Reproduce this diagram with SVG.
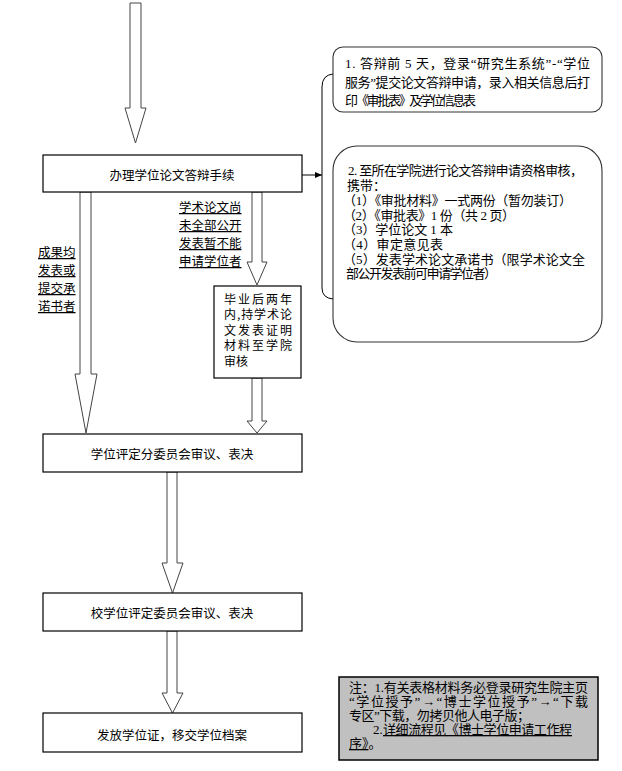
<svg xmlns="http://www.w3.org/2000/svg" width="622" height="771" viewBox="0 0 622 771">
<style>
.box{fill:#fff;stroke:#000;stroke-width:1.2}
.rbox{fill:#fff;stroke:#333;stroke-width:1.1}
.note{fill:#c0c0c0;stroke:#000;stroke-width:1.5}
.harrow{fill:#fff;stroke:#444;stroke-width:1}
.line{fill:none;stroke:#000;stroke-width:1}
.t{font-family:"Noto Sans CJK SC","Liberation Sans",sans-serif;font-size:12.5px;fill:#000}
.tc{text-anchor:middle}
.bt{font-family:"Noto Sans CJK SC","Liberation Sans",sans-serif;font-size:12px;fill:#000}
.rt{font-family:"Liberation Serif","Noto Sans CJK SC",serif;font-size:13px;fill:#000}
.nt{font-family:"Liberation Serif","Noto Sans CJK SC",serif;font-size:13px;fill:#000}
.u{text-decoration:underline}
</style>
<defs>
<marker id="ah" markerWidth="8" markerHeight="8" refX="7" refY="4" orient="auto" markerUnits="userSpaceOnUse">
<path d="M0,1 L7,4 L0,7 Z" fill="#000"/>
</marker>
</defs>
<rect width="622" height="771" fill="#fff"/>
<g id="connectors">
<polygon class="harrow" points="130,3 141,3 141,108 146,108 135.5,143 125,108 130,108"/>
<polygon class="harrow" points="80,192 91,192 91,374 97,374 86,433 75,374 80,374"/>
<polygon class="harrow" points="252,192 262,192 262,262 267,262 257,285 247,262 252,262"/>
<polygon class="harrow" points="252,378 262,378 262,421 267,421 257,433 247,421 252,421"/>
<polygon class="harrow" points="167,472 177,472 177,563 183,563 172.5,593 162,563 167,563"/>
<polygon class="harrow" points="167,631 177,631 177,693 183,693 172.5,713 162,693 167,693"/>
<line class="line" x1="302" y1="175" x2="322" y2="175" marker-end="url(#ah)"/>
<path class="line" d="M333,74 Q322,75 322,87 L322,288 Q322,298 333,299"/>
</g>
<g id="label-left">
<text class="t u" x="38" y="257">成果均</text>
<text class="t u" x="38" y="275">发表或</text>
<text class="t u" x="38" y="293">提交承</text>
<text class="t u" x="38" y="311">诺书者</text>
</g>
<g id="label-right">
<text class="t u" x="179" y="212">学术论文尚</text>
<text class="t u" x="179" y="230">未全部公开</text>
<text class="t u" x="179" y="248">发表暂不能</text>
<text class="t u" x="179" y="266">申请学位者</text>
</g>
<g id="node-apply">
<rect class="box" x="43" y="155" width="259" height="37"/>
<text class="t tc" x="172" y="179.5">办理学位论文答辩手续</text>
</g>
<g id="node-step1">
<rect class="rbox" x="333" y="47" width="269" height="65" rx="10"/>
<text class="rt" x="345" y="68" textLength="245" lengthAdjust="spacing">1. 答辩前 5 天，登录“研究生系统”-“学位</text>
<text class="rt" x="345" y="87" textLength="245" lengthAdjust="spacing">服务”提交论文答辩申请，录入相关信息后打</text>
<text class="rt" x="345" y="105" textLength="131" lengthAdjust="spacing">印《审批表》及学位信息表</text>
</g>
<g id="node-step2">
<rect class="rbox" x="333" y="146" width="269" height="196" rx="24"/>
<text class="rt" x="348" y="175" textLength="235" lengthAdjust="spacing">2. 至所在学院进行论文答辩申请资格审核，</text>
<text class="rt" x="347" y="190">携带：</text>
<text class="rt" x="343" y="205" textLength="229" lengthAdjust="spacing">（1）《审批材料》一式两份（暂勿装订）</text>
<text class="rt" x="343" y="219.5" textLength="172" lengthAdjust="spacing">（2）《审批表》1 份（共 2 页）</text>
<text class="rt" x="343" y="234" textLength="110" lengthAdjust="spacing">（3）学位论文 1 本</text>
<text class="rt" x="343" y="249" textLength="100" lengthAdjust="spacing">（4）审定意见表</text>
<text class="rt" x="343" y="264" textLength="242" lengthAdjust="spacing">（5）发表学术论文承诺书（限学术论文全</text>
<text class="rt" x="346" y="278" textLength="151" lengthAdjust="spacing">部公开发表前可申请学位者）</text>
</g>
<g id="node-later">
<rect class="box" x="214" y="286" width="87" height="92"/>
<text class="bt" x="224" y="303.5" textLength="68" lengthAdjust="spacing">毕业后两年</text>
<text class="bt" x="224" y="319" textLength="68" lengthAdjust="spacing">内,持学术论</text>
<text class="bt" x="224" y="334.5" textLength="68" lengthAdjust="spacing">文发表证明</text>
<text class="bt" x="224" y="350" textLength="68" lengthAdjust="spacing">材料至学院</text>
<text class="bt" x="224" y="365.5" textLength="24" lengthAdjust="spacing">审核</text>
</g>
<g id="node-subcommittee">
<rect class="box" x="43" y="434" width="259" height="38"/>
<text class="t tc" x="172" y="458.5">学位评定分委员会审议、表决</text>
</g>
<g id="node-committee">
<rect class="box" x="43" y="593" width="259" height="38"/>
<text class="t tc" x="172" y="617.5">校学位评定委员会审议、表决</text>
</g>
<g id="node-issue">
<rect class="box" x="43" y="713" width="259" height="39"/>
<text class="t tc" x="172" y="739.5">发放学位证，移交学位档案</text>
</g>
<g id="node-note">
<rect class="note" x="339" y="677" width="259" height="83"/>
<text class="nt" x="349" y="692" textLength="239" lengthAdjust="spacing">注：1.有关表格材料务必登录研究生院主页</text>
<text class="nt" x="349" y="706" textLength="239" lengthAdjust="spacing">“学位授予”→“博士学位授予”→“下载</text>
<text class="nt" x="349" y="720" textLength="181" lengthAdjust="spacing">专区”下载，勿拷贝他人电子版；</text>
<text class="nt" x="373" y="734">2.</text>
<text class="nt u" x="383" y="734" textLength="189" lengthAdjust="spacing">详细流程见《博士学位申请工作程</text>
<text class="nt" x="349" y="748"><tspan class="u">序》</tspan>。</text>
</g>
</svg>
